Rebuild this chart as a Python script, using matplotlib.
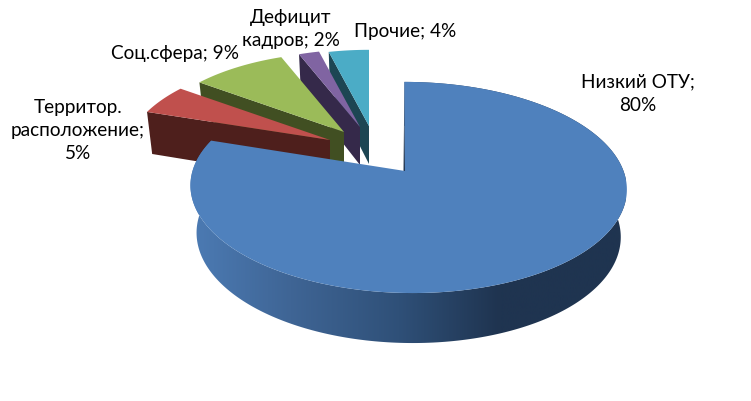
import matplotlib
matplotlib.use("Agg")
import matplotlib.pyplot as plt
import numpy as np
from matplotlib.colors import LinearSegmentedColormap
from matplotlib.patches import Polygon

plt.rcParams["font.family"] = ["Lato", "Noto Sans", "DejaVu Sans"]

categories = ["Низкий ОТУ", "Территор.\nрасположение", "Соц.сфера", "Дефицит\nкадров", "Прочие"]
values = [80, 5, 9, 2, 4]
label_seps = ["\n", "\n", " ", " ", " "]

top_colors = ["#4f81bd", "#c0504d", "#9bbb59", "#8064a2", "#4bacc6"]
side_colors = ["#1f3450", "#4e1f1c", "#414f22", "#35294a", "#1d4653"]

# pixel layout of the exploded slices
center = [(408, 172), (330, 141), (344, 133), (360, 128), (369, 127)]
scale = [1.0, 0.925, 0.895, 0.87, 0.855]
depth = [47, 43, 38, 38, 38]
rx = [215.5, 218, 218, 218, 218]
shear = [0.04, 0, 0, 0, 0]
label_pos = [(638, 94), (78, 130.5), (175, 54), (291, 29), (405.5, 31)]

RY = 103
PERSP = 0.156


def project(i, theta, r=1.0, z=0.0):
    # theta clockwise from 12 o'clock, z is 0 on top and 1 on the bottom rim
    x_g = r * np.sin(theta)
    y_g = r * np.cos(theta)
    p = scale[i] / (1 + PERSP * y_g)
    shrink = 1 - 0.028 * z
    dy = -RY * y_g * p
    x = center[i][0] + rx[i] * x_g * p * shrink + shear[i] * dy
    y = center[i][1] + dy + z * (depth[i] - 3 * y_g)
    return np.column_stack([x, y])


fig = plt.figure(figsize=(7.51, 4.02), dpi=100)
ax = fig.add_axes([0, 0, 1, 1])
ax.axis("off")

edges = 2 * np.pi * np.concatenate([[0], np.cumsum(values)]) / sum(values)

# small slices back to front, big one last
n = len(values)
for i in range(n - 1, 0, -1):
    start, stop = edges[i], edges[i + 1]
    arc = np.linspace(start, stop, 40)
    a = np.array(center[i], dtype=float)
    corner = project(i, start)[0]
    corner_low = project(i, start, z=1)[0]
    apex_low = a + [0, depth[i]]
    ax.add_patch(Polygon([corner, a, apex_low, corner_low], fc=side_colors[i], ec="none", zorder=n - i))
    ax.add_patch(Polygon(np.vstack([[a], project(i, arc)]), fc=top_colors[i], ec="none", zorder=n - i + 0.5))

start, stop = edges[0], edges[1]
arc = np.linspace(start, stop, 300)
zb = 10
rim = np.vstack([project(0, arc), project(0, arc[::-1], z=1)])
side = Polygon(rim, fc="none", ec="none", zorder=zb)
ax.add_patch(side)
side_cmap = LinearSegmentedColormap.from_list(
    "side", [(0, "#4c7bb4"), (0.23, "#3f6595"), (0.48, "#2f5078"), (0.71, "#1f3450"), (1, "#1f3450")]
)
grad = ax.imshow(np.linspace(0, 1, 256)[None, :], extent=(190, 626, 402, 0), cmap=side_cmap,
                 aspect="auto", zorder=zb)
grad.set_clip_path(side)
ax.set_xlim(0, 751)
ax.set_ylim(402, 0)

# the tip of the big slice sits left of the ellipse centre
tip = np.array([405.0, 172.0])
top_corner = project(0, 0.0)[0]
ax.add_patch(Polygon([top_corner, tip, tip + [-1.5, 0]], fc=side_colors[0], ec="none", zorder=zb + 1))
ax.add_patch(Polygon(np.vstack([[tip], project(0, arc)]), fc=top_colors[0], ec="none", zorder=zb + 2))

for name, val, sep, pos in zip(categories, values, label_seps, label_pos):
    ax.text(pos[0], pos[1], f"{name};{sep}{val}%", ha="center", va="center", fontsize=13.7,
            color="black", linespacing=1.45, zorder=20)

fig.savefig("out.png", dpi=100)
